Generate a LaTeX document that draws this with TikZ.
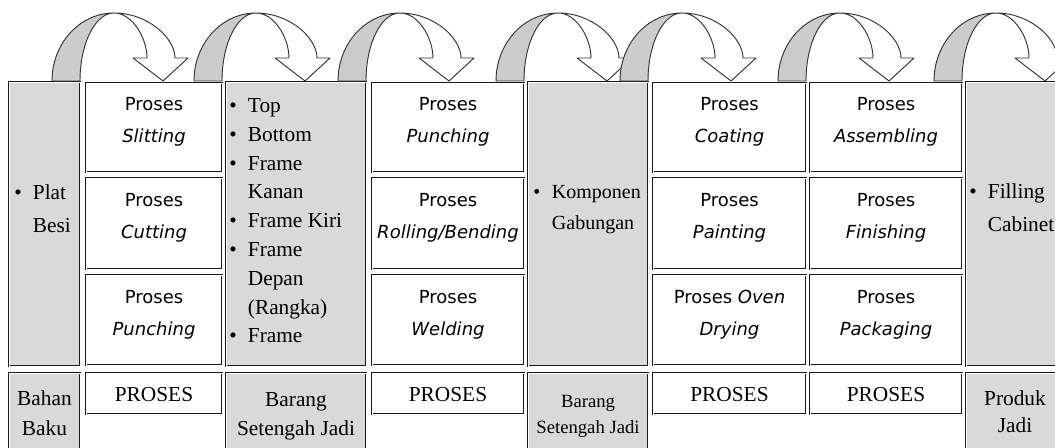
\documentclass[tikz,border=0pt]{standalone}
\usepackage{fontspec}
\setmainfont{Liberation Serif}
\newfontfamily\prosesfont{DejaVu Sans}

\definecolor{colgray}{RGB}{217,217,217}
\definecolor{bandgray}{RGB}{204,204,204}
\newcommand{\bul}{\makebox[14pt][l]{\textbullet}}
\newcommand{\nobul}{\hspace*{14pt}}

\tikzset{
	cell/.style 2 args={draw=black!90, line width=0.5pt, double, double distance=0.5pt,
		minimum width=#1*0.75pt, minimum height=#2*0.75pt, anchor=north west, inner sep=0pt},
	graycell/.style 2 args={cell={#1}{#2}, fill=colgray},
	whitecell/.style 2 args={cell={#1}{#2}, fill=white},
	ptext/.style={font=\prosesfont\fontsize{13.5}{24}\selectfont, align=center, anchor=base, inner sep=0pt},
	stext/.style={font=\fontsize{16}{#1}\selectfont, align=left, anchor=base west, inner sep=0pt},
	ctext/.style={font=\fontsize{16}{#1}\selectfont, align=center, anchor=base, inner sep=0pt},
	uturn/.pic={
		\draw[draw=black!80, line width=0.7pt, line join=round, fill=bandgray] (0,0) .. controls (0,-37.6) and (27.8,-68) .. (62,-68)
			.. controls (43.2,-68) and (28,-37.6) .. (28,0) -- cycle;
		\draw[draw=black!80, line width=0.7pt, line join=round, fill=white] (62,-68) .. controls (95.7,-68) and (123,-43.1) .. (123,-23)
			-- (136,-23) -- (111,0) -- (81,-23) -- (95,-23) .. controls (95,-43.1) and (80.2,-68) .. (62,-68) -- cycle;
	}
}

\begin{document}
\begin{tikzpicture}[x=0.75pt, y=-0.75pt]
	\useasboundingbox (0,0) rectangle (1055,448);
	\clip (0,0) rectangle (1055,448);

	% upper row
	\node[graycell={71}{284}] (bb) at (9,82) {};
	\node[whitecell={136}{89}] (s1) at (86,83) {};
	\node[whitecell={136}{91}] (s2) at (86,178) {};
	\node[whitecell={136}{90}] (s3) at (86,275) {};
	\node[graycell={140}{284}] (bsj1) at (226,82) {};
	\node[whitecell={152}{89}] (p1) at (372,83) {};
	\node[whitecell={152}{91}] (p2) at (372,178) {};
	\node[whitecell={152}{90}] (p3) at (372,275) {};
	\node[graycell={120}{284}] (bsj2) at (528,82) {};
	\node[whitecell={153}{89}] (c1) at (653,83) {};
	\node[whitecell={153}{91}] (c2) at (653,178) {};
	\node[whitecell={153}{90}] (c3) at (653,275) {};
	\node[whitecell={152}{89}] (a1) at (810,83) {};
	\node[whitecell={152}{91}] (a2) at (810,178) {};
	\node[whitecell={152}{90}] (a3) at (810,275) {};
	\node[graycell={120}{284}] (pj) at (966,82) {};

	% lower row
	\node[graycell={71}{80}] (lbb) at (9,373) {};
	\node[whitecell={136}{41}] (lp1) at (86,373) {};
	\node[graycell={140}{80}] (lbsj1) at (226,373) {};
	\node[whitecell={152}{41}] (lp2) at (372,373) {};
	\node[graycell={120}{80}] (lbsj2) at (528,373) {};
	\node[whitecell={153}{41}] (lp3) at (653,373) {};
	\node[whitecell={152}{41}] (lp4) at (810,373) {};
	\node[graycell={100}{80}] (lpj) at (966,373) {};

	% texts of the upper row (placed at the baseline of their last line)
	\node[stext=24.75] (tbb) at (14,233) {\bul Plat\\\nobul Besi};
	\node[ptext] (ts1) at (154,143) {Proses\\\textit{Slitting}};
	\node[ptext] (ts2) at (154,239) {Proses\\\textit{Cutting}};
	\node[ptext] (ts3) at (154,336) {Proses\\\textit{Punching}};
	\node[stext=21.6] (tbsj1) at (229,343) {\bul Top\\\bul Bottom\\\bul Frame\\\nobul Kanan\\\bul Frame Kiri\\\bul Frame\\\nobul Depan\\\nobul (Rangka)\\\bul Frame};
	\node[ptext] (tp1) at (448,143) {Proses\\\textit{Punching}};
	\node[ptext] (tp2) at (448,239) {Proses\\\textit{Rolling/Bending}};
	\node[ptext] (tp3) at (448,336) {Proses\\\textit{Welding}};
	\node[stext=23.25, font=\fontsize{15}{23.25}\selectfont] (tbsj2) at (533,230) {\bul Komponen\\\nobul Gabungan};
	\node[ptext] (tc1) at (729.5,143) {Proses\\\textit{Coating}};
	\node[ptext] (tc2) at (729.5,239) {Proses\\\textit{Painting}};
	\node[ptext] (tc3) at (729.5,336) {Proses \textit{Oven}\\\textit{Drying}};
	\node[ptext] (ta1) at (886,143) {Proses\\\textit{Assembling}};
	\node[ptext] (ta2) at (886,239) {Proses\\\textit{Finishing}};
	\node[ptext] (ta3) at (886,336) {Proses\\\textit{Packaging}};
	\node[stext=24.75] (tpj) at (969,232) {\bul Filling\\\nobul Cabinet};

	% texts of the lower row
	\node[ctext=22.5] (tlbb) at (44.5,435) {Bahan\\Baku};
	\node[ctext=20] (tlp1) at (154,402) {PROSES};
	\node[ctext=21] (tlbsj1) at (296,435) {Barang\\Setengah Jadi};
	\node[ctext=20] (tlp2) at (448,402) {PROSES};
	\node[ctext=19.5, font=\fontsize{14}{19.5}\selectfont] (tlbsj2) at (588,433) {Barang\\Setengah Jadi};
	\node[ctext=20] (tlp3) at (729.5,402) {PROSES};
	\node[ctext=20] (tlp4) at (886,402) {PROSES};
	\node[ctext=20.25] (tlpj) at (1015,432) {Produk\\Jadi};

	% turning arrows
	\pic at (52,81) {uturn};
	\pic at (194,81) {uturn};
	\pic at (338,81) {uturn};
	\pic at (496,81) {uturn};
	\pic at (620,81) {uturn};
	\pic at (778,81) {uturn};
	\pic at (934,81) {uturn};
\end{tikzpicture}
\end{document}
